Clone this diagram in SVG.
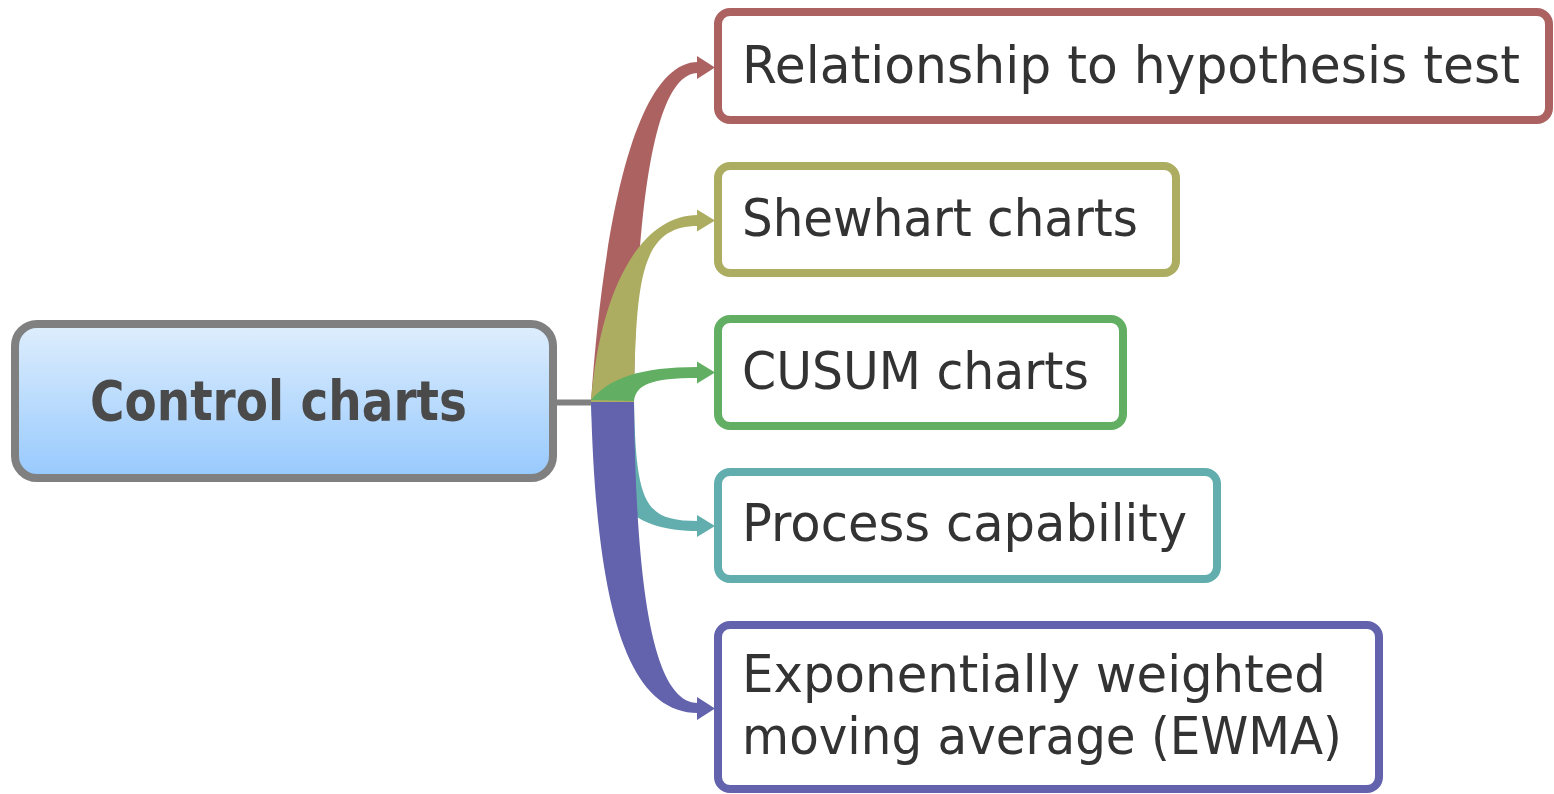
<svg xmlns="http://www.w3.org/2000/svg" width="1554" height="794" viewBox="0 0 1554 794">
<defs>
<linearGradient id="rootFill" x1="0" y1="0" x2="0" y2="1">
<stop offset="0" stop-color="#deeefd"/>
<stop offset="1" stop-color="#97c9fd"/>
</linearGradient>
<style>
.box{fill:#ffffff;stroke-width:8}
.lbl{font-family:"DejaVu Sans","Liberation Sans",sans-serif;font-size:51px;fill:#333333}
.root{font-family:"DejaVu Sans","Liberation Sans",sans-serif;font-size:55px;font-weight:bold;fill:#4a4a4a}
.red{fill:#ad6262}
.olive{fill:#adad62}
.green{fill:#62ae62}
.teal{fill:#62aeae}
.purple{fill:#6262ad}
</style>
</defs>
<rect width="1554" height="794" fill="#ffffff"/>
<g id="connectors">
<line x1="555" y1="402.5" x2="592" y2="402.5" stroke="#808080" stroke-width="6"/>
<path class="red" d="M591,402 C605,200 640,62 698,62 L698,73 C655,73 636,200 634,402 Z"/>
<polygon class="red" points="697,56 715,67.5 697,79"/>
<path class="olive" d="M591,402 C600,290 640,215 698,215 L698,226 C640,226 636,280 634,402 Z"/>
<polygon class="olive" points="697,209.5 715,220.5 697,231.5"/>
<path class="green" d="M591,400 C610,378 640,367 698,367 L698,378 C650,378 636,385 634,401 Z"/>
<polygon class="green" points="697,361.5 715,372.5 697,383.5"/>
<path class="teal" d="M634,402 C636,505 645,521 698,521 L698,531 C630,531 595,500 591,402 Z"/>
<polygon class="teal" points="697,515 715,526 697,537"/>
<path class="purple" d="M591,402 C596,600 625,713 698,713 L698,703 C655,703 636,600 634,402 Z"/>
<polygon class="purple" points="697,697 715,708.5 697,720"/>
</g>
<g id="node-root">
<rect x="15" y="324" width="538" height="154" rx="22" fill="url(#rootFill)" stroke="#808080" stroke-width="8"/>
<text class="root" x="278.5" y="420" text-anchor="middle" textLength="377" lengthAdjust="spacingAndGlyphs">Control charts</text>
</g>
<g id="node-relationship">
<rect class="box" x="718" y="12" width="831" height="108" rx="12" stroke="#ad6262"/>
<text class="lbl" x="742" y="82.5" textLength="778" lengthAdjust="spacingAndGlyphs">Relationship to hypothesis test</text>
</g>
<g id="node-shewhart">
<rect class="box" x="718" y="166" width="458" height="107" rx="12" stroke="#adad62"/>
<text class="lbl" x="742" y="235.5" textLength="396" lengthAdjust="spacingAndGlyphs">Shewhart charts</text>
</g>
<g id="node-cusum">
<rect class="box" x="718" y="319" width="405" height="107" rx="12" stroke="#62ae62"/>
<text class="lbl" x="742" y="388.5" textLength="347" lengthAdjust="spacingAndGlyphs">CUSUM charts</text>
</g>
<g id="node-capability">
<rect class="box" x="718" y="472" width="499" height="107" rx="12" stroke="#62aeae"/>
<text class="lbl" x="742" y="541" textLength="445" lengthAdjust="spacingAndGlyphs">Process capability</text>
</g>
<g id="node-ewma">
<rect class="box" x="718" y="625" width="661" height="164" rx="12" stroke="#6262ad"/>
<text class="lbl" x="742" y="692" textLength="584" lengthAdjust="spacingAndGlyphs">Exponentially weighted</text>
<text class="lbl" x="742" y="754" textLength="600" lengthAdjust="spacingAndGlyphs">moving average (EWMA)</text>
</g>
</svg>
